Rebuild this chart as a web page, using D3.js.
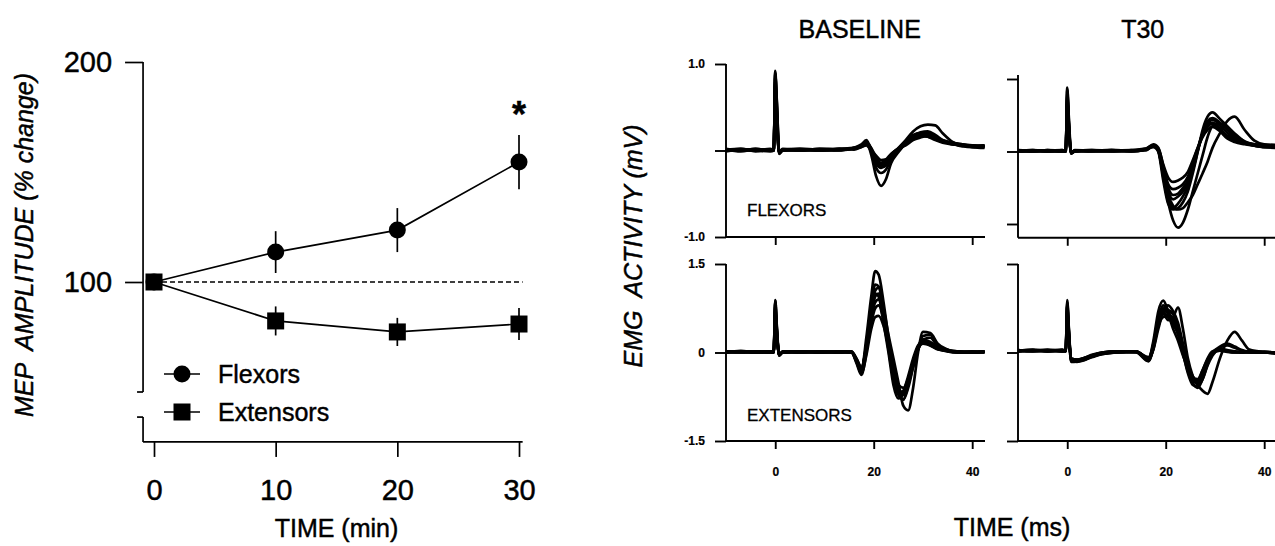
<!DOCTYPE html>
<html>
<head>
<meta charset="utf-8">
<script src="https://cdn.jsdelivr.net/npm/d3@7"></script>
<style>
  html, body { margin: 0; padding: 0; background: #fff; }
  svg { display: block; font-family: "Liberation Sans", Arial, Helvetica, sans-serif; }
  text { white-space: pre; fill: #000; stroke: #000; stroke-width: 0.45px; }
  text.small { stroke-width: 0.2px; }
</style>
</head>
<body>
<svg id="fig" width="1275" height="546"></svg>
<script>
// ---------- MEP amplitude time course (left) ----------
const minutes = [0, 10, 20, 30];
const minuteTicks = [0, 10, 20, 30];
const ampTicks = [100, 200];
const flexorsMean = [100, 113.6, 123.6, 154.5];
const flexorsSem = [0, 9.5, 10, 12.3];
const extensorsMean = [100, 82.3, 77.3, 80.9];
const extensorsSem = [0, 6.6, 6.4, 7.3];
const seriesNames = ["Flexors", "Extensors"];
const significant = [false, false, false, true];

// ---------- EMG sweeps (right) ----------
const emgTimeTicks = [0, 20, 40];
const panelTitles = ["BASELINE", "T30"];
const rowLabels = ["FLEXORS", "EXTENSORS"];
const flexTicks = [-1, 0, 1];
const extTicks = [-1.5, 0, 1.5];

// Flexors, baseline
const flexBaseTime = [-10, -7, -4, -1, -0.3, 0, 0.3, 0.8, 1.5, 5, 9, 13, 16, 17.5, 18.5, 19.5, 20.5, 21.5, 22.5, 23.5, 25, 26.5, 28, 29.5, 31, 32.5, 34, 36, 38, 40, 42.5];
const flexBaseSweeps = [
  [0.00, 0.02, -0.01, 0.01, 0.00, 0.92, 0.55, -0.03, 0.00, 0.01, 0.00, 0.02, 0.03, 0.06, 0.10, -0.05, -0.30, -0.41, -0.33, -0.15, -0.02, 0.08, 0.15, 0.18, 0.16, 0.12, 0.09, 0.07, 0.06, 0.05, 0.06],
  [0.01, 0.00, 0.02, 0.00, 0.01, 0.85, 0.60, -0.02, 0.01, 0.00, 0.02, 0.01, 0.02, 0.05, 0.08, 0.02, -0.12, -0.18, -0.15, -0.08, 0.02, 0.12, 0.22, 0.28, 0.30, 0.29, 0.20, 0.10, 0.06, 0.05, 0.04],
  [-0.01, 0.01, 0.00, 0.02, 0.00, 0.78, 0.40, -0.04, 0.00, 0.02, 0.01, 0.00, 0.03, 0.07, 0.12, 0.00, -0.20, -0.26, -0.22, -0.10, 0.00, 0.10, 0.18, 0.20, 0.18, 0.13, 0.10, 0.08, 0.05, 0.06, 0.05],
  [0.02, 0.00, 0.01, 0.00, 0.02, 0.90, 0.50, -0.03, 0.01, 0.00, 0.01, 0.02, 0.02, 0.05, 0.09, 0.03, -0.08, -0.14, -0.12, -0.06, 0.02, 0.09, 0.16, 0.19, 0.20, 0.15, 0.11, 0.08, 0.05, 0.04, 0.06],
  [0.00, 0.01, 0.00, -0.01, 0.00, 0.70, 0.35, -0.02, 0.00, 0.01, 0.00, 0.01, 0.03, 0.06, 0.11, -0.02, -0.15, -0.20, -0.17, -0.09, 0.01, 0.07, 0.14, 0.17, 0.16, 0.14, 0.12, 0.09, 0.07, 0.05, 0.05],
  [0.01, -0.01, 0.01, 0.01, 0.01, 0.80, 0.45, -0.03, 0.00, 0.00, 0.02, 0.01, 0.02, 0.04, 0.07, 0.01, -0.10, -0.16, -0.14, -0.05, 0.03, 0.11, 0.17, 0.21, 0.22, 0.18, 0.12, 0.07, 0.06, 0.04, 0.03],
  [0.00, 0.00, 0.02, 0.00, 0.00, 0.88, 0.58, -0.02, 0.02, 0.01, 0.00, 0.02, 0.01, 0.04, 0.06, 0.00, -0.06, -0.11, -0.10, -0.04, 0.02, 0.06, 0.12, 0.15, 0.17, 0.15, 0.10, 0.08, 0.06, 0.05, 0.04],
  [0.01, 0.02, 0.00, 0.01, 0.01, 0.75, 0.42, -0.03, 0.01, 0.02, 0.01, 0.00, 0.03, 0.05, 0.09, -0.01, -0.12, -0.19, -0.16, -0.07, 0.00, 0.08, 0.15, 0.19, 0.20, 0.16, 0.11, 0.09, 0.07, 0.06, 0.05]
];

// Flexors, 30 min
const flexT30Time = [-10, -7, -4, -1, -0.3, 0, 0.3, 0.8, 1.5, 5, 9, 13, 16, 17.5, 18.5, 19.5, 20.5, 21.5, 22.5, 23.5, 24.5, 25.5, 26.5, 27.5, 28.5, 29.5, 31, 32.5, 34, 36, 38, 40, 42.5];
const flexT30Sweeps = [
  [0.00, 0.02, 0.00, 0.01, 0.00, 0.88, 0.45, -0.02, 0.01, 0.00, 0.02, 0.01, 0.03, 0.08, 0.02, -0.35, -0.70, -0.95, -1.05, -0.98, -0.80, -0.55, -0.30, -0.05, 0.20, 0.35, 0.38, 0.30, 0.20, 0.12, 0.08, 0.06, 0.07],
  [0.01, 0.00, 0.02, 0.00, 0.01, 0.70, 0.35, -0.01, 0.00, 0.02, 0.00, 0.02, 0.04, 0.09, 0.00, -0.40, -0.72, -0.80, -0.78, -0.70, -0.55, -0.30, 0.00, 0.30, 0.48, 0.54, 0.45, 0.35, 0.25, 0.14, 0.10, 0.08, 0.08],
  [0.00, 0.01, 0.01, 0.02, 0.00, 0.60, 0.30, -0.02, 0.01, 0.01, 0.01, 0.00, 0.03, 0.06, 0.00, -0.30, -0.60, -0.75, -0.80, -0.78, -0.70, -0.60, -0.45, -0.30, -0.14, 0.05, 0.25, 0.42, 0.48, 0.30, 0.15, 0.10, 0.09],
  [0.02, 0.00, 0.01, 0.00, 0.02, 0.82, 0.40, -0.03, 0.00, 0.01, 0.02, 0.01, 0.04, 0.10, 0.05, -0.20, -0.45, -0.52, -0.50, -0.45, -0.35, -0.15, 0.05, 0.25, 0.36, 0.40, 0.32, 0.20, 0.15, 0.12, 0.10, 0.09, 0.08],
  [0.00, 0.01, 0.00, 0.01, 0.01, 0.75, 0.38, -0.02, 0.01, 0.00, 0.01, 0.02, 0.02, 0.08, 0.03, -0.25, -0.55, -0.66, -0.62, -0.55, -0.42, -0.22, 0.02, 0.22, 0.34, 0.38, 0.30, 0.22, 0.16, 0.11, 0.08, 0.07, 0.06],
  [0.01, 0.00, 0.02, 0.01, 0.00, 0.85, 0.50, -0.02, 0.02, 0.01, 0.00, 0.01, 0.03, 0.07, 0.04, -0.18, -0.36, -0.42, -0.40, -0.36, -0.28, -0.12, 0.05, 0.20, 0.30, 0.34, 0.28, 0.18, 0.13, 0.10, 0.08, 0.06, 0.05],
  [0.00, 0.02, 0.01, 0.00, 0.01, 0.78, 0.42, -0.03, 0.00, 0.02, 0.01, 0.01, 0.02, 0.09, 0.01, -0.32, -0.64, -0.78, -0.72, -0.62, -0.48, -0.26, 0.00, 0.26, 0.42, 0.46, 0.40, 0.32, 0.22, 0.14, 0.09, 0.07, 0.07],
  [0.02, 0.01, 0.00, 0.02, 0.00, 0.68, 0.33, -0.02, 0.01, 0.01, 0.02, 0.00, 0.03, 0.07, 0.02, -0.22, -0.50, -0.60, -0.58, -0.50, -0.40, -0.20, 0.03, 0.24, 0.38, 0.44, 0.36, 0.26, 0.18, 0.12, 0.09, 0.08, 0.06]
];

// Extensors, baseline
const extBaseTime = [-10, -7, -4, -1, -0.3, 0, 0.3, 0.8, 1.5, 5, 9, 13, 15.5, 16.5, 17.5, 18.5, 19.5, 20.3, 21, 22, 23, 24, 25, 26, 27, 28, 29, 30, 31.5, 33, 35, 37, 40, 42.5];
const extBaseSweeps = [
  [0.00, 0.03, 0.00, 0.02, 0.00, 0.89, 0.45, -0.05, 0.00, 0.02, 0.00, 0.01, 0.00, -0.15, -0.30, 0.25, 0.95, 1.38, 1.32, 0.85, 0.25, -0.25, -0.62, -0.80, -0.60, -0.25, 0.05, 0.22, 0.18, 0.08, 0.02, 0.00, 0.01, 0.02],
  [0.01, 0.00, 0.02, 0.00, 0.01, 0.80, 0.40, -0.04, 0.01, 0.00, 0.02, 0.00, 0.01, -0.10, -0.25, 0.10, 0.70, 1.05, 1.10, 0.75, 0.30, -0.10, -0.50, -0.90, -0.98, -0.60, 0.00, 0.35, 0.33, 0.15, 0.05, 0.00, 0.00, 0.01],
  [0.02, 0.01, 0.00, 0.01, 0.02, 0.60, 0.30, -0.03, 0.00, 0.01, 0.01, 0.02, 0.00, -0.18, -0.38, 0.00, 0.60, 0.95, 1.00, 0.60, 0.05, -0.45, -0.70, -0.65, -0.40, -0.10, 0.12, 0.18, 0.12, 0.06, 0.02, 0.01, 0.00, 0.02],
  [0.00, 0.02, 0.01, 0.00, 0.00, 0.85, 0.42, -0.05, 0.01, 0.02, 0.00, 0.01, 0.02, -0.12, -0.28, 0.15, 0.75, 1.00, 0.95, 0.50, 0.00, -0.55, -0.78, -0.70, -0.45, -0.15, 0.10, 0.20, 0.15, 0.08, 0.03, 0.00, 0.01, 0.00],
  [0.01, 0.00, 0.01, 0.02, 0.01, 0.75, 0.38, -0.04, 0.00, 0.00, 0.01, 0.00, 0.01, -0.14, -0.32, 0.05, 0.55, 0.85, 0.90, 0.60, 0.15, -0.35, -0.65, -0.72, -0.50, -0.20, 0.05, 0.22, 0.25, 0.10, 0.04, 0.02, 0.00, 0.01],
  [0.02, 0.01, 0.00, 0.00, 0.00, 0.70, 0.35, -0.03, 0.02, 0.01, 0.00, 0.02, 0.00, -0.16, -0.35, -0.05, 0.40, 0.60, 0.62, 0.45, 0.10, -0.30, -0.55, -0.60, -0.45, -0.18, 0.08, 0.15, 0.12, 0.05, 0.03, 0.01, 0.02, 0.00],
  [0.00, 0.01, 0.02, 0.01, 0.00, 0.88, 0.48, -0.05, 0.00, 0.02, 0.01, 0.00, 0.01, -0.13, -0.30, 0.12, 0.80, 1.15, 1.12, 0.70, 0.18, -0.40, -0.72, -0.80, -0.55, -0.25, 0.05, 0.28, 0.30, 0.12, 0.04, 0.01, 0.00, 0.01],
  [0.01, 0.02, 0.00, 0.01, 0.01, 0.65, 0.32, -0.04, 0.01, 0.00, 0.02, 0.01, 0.00, -0.11, -0.26, 0.08, 0.50, 0.75, 0.80, 0.55, 0.12, -0.32, -0.60, -0.68, -0.48, -0.18, 0.06, 0.16, 0.14, 0.07, 0.03, 0.02, 0.01, 0.02]
];

// Extensors, 30 min
const extT30Time = [-10, -7, -4, -1, -0.3, 0, 0.3, 0.8, 2, 3.5, 5, 7, 10, 14, 16.5, 17.5, 18.5, 19.5, 20.5, 21.5, 22.5, 23.5, 24.5, 25.5, 26.5, 27.5, 28.5, 29.5, 31, 32.5, 34, 35.5, 37, 40, 42.5];
const extT30Sweeps = [
  [0.03, 0.05, 0.02, 0.04, 0.03, 0.89, 0.40, -0.15, -0.14, -0.12, -0.08, -0.03, 0.00, 0.01, -0.12, 0.20, 0.70, 0.88, 0.70, 0.50, 0.35, 0.05, -0.25, -0.45, -0.50, -0.35, -0.15, 0.00, 0.05, 0.03, 0.02, 0.00, 0.01, 0.00, -0.02],
  [0.02, 0.03, 0.04, 0.02, 0.03, 0.80, 0.35, -0.12, -0.15, -0.13, -0.06, -0.02, 0.01, 0.02, -0.10, 0.05, 0.40, 0.65, 0.55, 0.60, 0.76, 0.40, -0.10, -0.40, -0.55, -0.45, -0.20, 0.00, 0.05, 0.02, 0.00, 0.01, 0.02, 0.00, -0.01],
  [0.04, 0.02, 0.03, 0.05, 0.02, 0.70, 0.30, -0.10, -0.12, -0.10, -0.05, 0.00, 0.02, 0.00, -0.15, 0.10, 0.55, 0.80, 0.65, 0.40, 0.20, -0.05, -0.25, -0.40, -0.55, -0.65, -0.70, -0.50, -0.10, 0.20, 0.35, 0.20, 0.05, 0.01, 0.00],
  [0.03, 0.04, 0.02, 0.03, 0.04, 0.85, 0.45, -0.14, -0.16, -0.11, -0.07, -0.02, 0.00, 0.01, -0.08, 0.15, 0.60, 0.75, 0.72, 0.65, 0.45, 0.10, -0.30, -0.50, -0.48, -0.30, -0.10, 0.02, 0.04, 0.02, 0.01, 0.00, 0.00, 0.01, -0.01],
  [0.02, 0.03, 0.05, 0.02, 0.02, 0.75, 0.38, -0.11, -0.13, -0.09, -0.05, -0.01, 0.02, 0.02, -0.14, 0.08, 0.50, 0.70, 0.68, 0.55, 0.38, 0.00, -0.35, -0.55, -0.58, -0.40, -0.18, -0.02, 0.03, 0.01, 0.00, 0.01, 0.00, 0.01, 0.00],
  [0.04, 0.02, 0.03, 0.04, 0.03, 0.65, 0.32, -0.13, -0.14, -0.10, -0.06, -0.01, 0.01, 0.02, -0.11, 0.12, 0.55, 0.72, 0.80, 0.70, 0.50, 0.15, -0.20, -0.42, -0.45, -0.30, -0.12, 0.00, 0.10, 0.15, 0.10, 0.04, 0.01, 0.00, 0.00],
  [0.03, 0.03, 0.02, 0.03, 0.02, 0.82, 0.42, -0.16, -0.15, -0.12, -0.07, -0.03, 0.00, 0.01, -0.09, 0.10, 0.45, 0.60, 0.62, 0.58, 0.42, 0.05, -0.28, -0.48, -0.52, -0.38, -0.15, 0.00, 0.06, 0.04, 0.02, 0.00, 0.01, 0.00, -0.01],
  [0.02, 0.04, 0.03, 0.02, 0.03, 0.60, 0.28, -0.10, -0.12, -0.09, -0.04, 0.00, 0.02, 0.01, -0.13, 0.06, 0.48, 0.68, 0.60, 0.48, 0.30, -0.02, -0.32, -0.52, -0.60, -0.45, -0.22, -0.05, 0.08, 0.12, 0.08, 0.03, 0.01, 0.00, 0.00]
];

const svg = d3.select("#fig");
const ink = "#000";

// ================= Left: MEP amplitude =================
const xMin = d3.scaleLinear().domain([0, 30]).range([154, 519]);
const yAmp = d3.scaleLinear().domain([100, 200]).range([282, 62]);
const axisLeftX = xMin(-0.9);
const left = svg.append("g");

// broken y axis: upper segment and short lower stub
const upperSeg = [50, 200], lowerSeg = [27.3, 38.6];
left.append("line").attr("x1", axisLeftX).attr("x2", axisLeftX)
  .attr("y1", yAmp(upperSeg[1])).attr("y2", yAmp(upperSeg[0]))
  .attr("stroke", ink).attr("stroke-width", 1.7);
left.append("line").attr("x1", axisLeftX - 6).attr("x2", axisLeftX)
  .attr("y1", yAmp(upperSeg[0])).attr("y2", yAmp(upperSeg[0]))
  .attr("stroke", ink).attr("stroke-width", 1.7);
left.append("line").attr("x1", axisLeftX).attr("x2", axisLeftX)
  .attr("y1", yAmp(lowerSeg[1])).attr("y2", yAmp(lowerSeg[0]))
  .attr("stroke", ink).attr("stroke-width", 1.7);
left.append("line").attr("x1", axisLeftX - 6).attr("x2", axisLeftX)
  .attr("y1", yAmp(lowerSeg[1])).attr("y2", yAmp(lowerSeg[1]))
  .attr("stroke", ink).attr("stroke-width", 1.7);

// y ticks
const yAxisG = left.append("g").attr("transform", `translate(${axisLeftX},0)`)
  .call(d3.axisLeft(yAmp).tickValues(ampTicks).tickSize(18).tickPadding(13).tickFormat(d3.format("d")));
yAxisG.select(".domain").remove();
yAxisG.selectAll(".tick line").attr("stroke", ink).attr("stroke-width", 1.7);
yAxisG.selectAll(".tick text").attr("fill", ink).style("font-size", "29px").style("font-family", "Liberation Sans, Arial, sans-serif");

// x axis
const xAxisY = yAmp(lowerSeg[0]);
left.append("line").attr("x1", axisLeftX).attr("x2", xMin(30.3))
  .attr("y1", xAxisY).attr("y2", xAxisY).attr("stroke", ink).attr("stroke-width", 1.7);
const xAxisG = left.append("g").attr("transform", `translate(0,${xAxisY})`)
  .call(d3.axisBottom(xMin).tickValues(minuteTicks).tickSize(15).tickPadding(22).tickFormat(d3.format("d")));
xAxisG.select(".domain").remove();
xAxisG.selectAll(".tick line").attr("stroke", ink).attr("stroke-width", 1.7);
xAxisG.selectAll(".tick text").attr("fill", ink).style("font-size", "29px").style("font-family", "Liberation Sans, Arial, sans-serif");

// 100% reference line
left.append("line").attr("x1", xMin(0)).attr("x2", xMin(30.3))
  .attr("y1", yAmp(100)).attr("y2", yAmp(100))
  .attr("stroke", ink).attr("stroke-width", 1.3).attr("stroke-dasharray", "5,3");

const ampLine = d3.line().x((d, i) => xMin(minutes[i])).y(d => yAmp(d));
const series = [
  { name: seriesNames[0], mean: flexorsMean, sem: flexorsSem, shape: "circle" },
  { name: seriesNames[1], mean: extensorsMean, sem: extensorsSem, shape: "square" }
];
function drawMarker(g, cx, cy, shape) {
  if (shape === "circle") {
    g.append("circle").attr("cx", cx).attr("cy", cy).attr("r", 8.5).attr("fill", ink);
  } else {
    g.append("rect").attr("x", cx - 8.5).attr("y", cy - 8.5).attr("width", 17).attr("height", 17).attr("fill", ink);
  }
}
series.forEach(s => {
  const g = left.append("g");
  g.append("path").attr("d", ampLine(s.mean)).attr("fill", "none").attr("stroke", ink).attr("stroke-width", 1.7);
  s.mean.forEach((m, i) => {
    if (s.sem[i] > 0) {
      g.append("line").attr("x1", xMin(minutes[i])).attr("x2", xMin(minutes[i]))
        .attr("y1", yAmp(m + s.sem[i])).attr("y2", yAmp(m - s.sem[i]))
        .attr("stroke", ink).attr("stroke-width", 1.7);
    }
    drawMarker(g, xMin(minutes[i]), yAmp(m), s.shape);
  });
});

// significance mark
significant.forEach((sig, i) => {
  if (!sig) return;
  left.append("text").attr("x", xMin(minutes[i])).attr("y", yAmp(flexorsMean[i] + flexorsSem[i]) - 8)
    .attr("text-anchor", "middle").style("font-size", "36px").style("font-weight", "bold").text("*");
});

// legend
const legendRows = [{ y: 374, shape: "circle", name: seriesNames[0] }, { y: 412, shape: "square", name: seriesNames[1] }];
legendRows.forEach(r => {
  left.append("line").attr("x1", 164).attr("x2", 200).attr("y1", r.y).attr("y2", r.y).attr("stroke", ink).attr("stroke-width", 1.7);
  drawMarker(left, 182, r.y, r.shape);
  left.append("text").attr("x", 218).attr("y", r.y + 9).style("font-size", "25px").text(r.name);
});

// axis titles
left.append("text").attr("transform", "translate(33,245) rotate(-90)")
  .attr("text-anchor", "middle").style("font-size", "25px").style("font-style", "italic")
  .text("MEP  AMPLITUDE (% change)");
left.append("text").attr("x", (xMin(0) + xMin(30)) / 2).attr("y", 537)
  .attr("text-anchor", "middle").style("font-size", "25px").text("TIME (min)");

// ================= Right: EMG sweeps =================
const emgDomain = [-10, 42.6];
const panels = [
  { time: flexBaseTime, sweeps: flexBaseSweeps, x0: 726, yDom: [-1, 1], yRange: [237, 64], axisTop: 1, axisBottom: -1, ticks: flexTicks, labels: ["-1.0", "", "1.0"], xLabels: false, xEnd: 985, row: 0, col: 0 },
  { time: flexT30Time, sweeps: flexT30Sweeps, x0: 1018, yDom: [-1, 1], yRange: [224, 79], axisTop: 1.055, axisBottom: -1.19, ticks: flexTicks, labels: ["", "", ""], xLabels: false, xEnd: 1277, row: 0, col: 1 },
  { time: extBaseTime, sweeps: extBaseSweeps, x0: 726, yDom: [-1.5, 1.5], yRange: [441, 264], axisTop: 1.5, axisBottom: -1.5, ticks: extTicks, labels: ["-1.5", "0", "1.5"], xLabels: true, xEnd: 985, row: 1, col: 0 },
  { time: extT30Time, sweeps: extT30Sweeps, x0: 1018, yDom: [-1.5, 1.5], yRange: [441, 264], axisTop: 1.5, axisBottom: -1.5, ticks: extTicks, labels: ["", "", ""], xLabels: true, xEnd: 1277, row: 1, col: 1 }
];

panels.forEach(p => {
  const x = d3.scaleLinear().domain(emgDomain).range([p.x0, p.x0 + 259]);
  const y = d3.scaleLinear().domain(p.yDom).range(p.yRange);
  const g = svg.append("g");
  const baseY = y(p.axisBottom);

  // sweeps
  const line = d3.line().x((d, i) => x(p.time[i])).y(d => y(d)).curve(d3.curveMonotoneX);
  p.sweeps.forEach(s => {
    g.append("path").attr("d", line(s)).attr("fill", "none").attr("stroke", ink)
      .attr("stroke-width", 2.7).attr("stroke-linejoin", "round");
  });

  // y axis
  g.append("line").attr("x1", p.x0).attr("x2", p.x0).attr("y1", y(p.axisTop)).attr("y2", baseY)
    .attr("stroke", ink).attr("stroke-width", 1.9);
  const ya = g.append("g").attr("transform", `translate(${p.x0},0)`)
    .call(d3.axisLeft(y).tickValues(p.ticks).tickSize(11).tickPadding(10).tickFormat((d, i) => p.labels[i]));
  ya.select(".domain").remove();
  ya.selectAll(".tick line").attr("stroke", ink).attr("stroke-width", 1.9);
  ya.selectAll(".tick text").attr("class", "small").attr("fill", ink).style("font-size", "12px").style("font-weight", "bold")
    .style("font-family", "Liberation Sans, Arial, sans-serif");

  // x axis
  g.append("line").attr("x1", p.x0).attr("x2", p.xEnd).attr("y1", baseY).attr("y2", baseY)
    .attr("stroke", ink).attr("stroke-width", 1.9);
  const xa = g.append("g").attr("transform", `translate(0,${baseY})`)
    .call(d3.axisBottom(x).tickValues(emgTimeTicks).tickSize(8).tickPadding(18)
      .tickFormat(p.xLabels ? d3.format("d") : () => ""));
  xa.select(".domain").remove();
  xa.selectAll(".tick line").attr("stroke", ink).attr("stroke-width", 1.9);
  xa.selectAll(".tick text").attr("class", "small").attr("fill", ink).style("font-size", "12px").style("font-weight", "bold")
    .style("font-family", "Liberation Sans, Arial, sans-serif");

  // row label in the left column
  if (p.col === 0) {
    g.append("text").attr("x", 747).attr("y", p.row === 0 ? 216 : 421)
      .style("font-size", "17px").style("stroke-width", "0.3px").text(rowLabels[p.row]);
  }
  // column title
  if (p.row === 0) {
    g.append("text").attr("x", x(20) - (p.col === 0 ? 14 : 23)).attr("y", 38)
      .attr("text-anchor", "middle").style("font-size", "25px").text(panelTitles[p.col]);
  }
});

svg.append("text").attr("transform", "translate(642,246) rotate(-90)")
  .attr("text-anchor", "middle").style("font-size", "25px").style("font-style", "italic")
  .text("EMG  ACTIVITY (mV)");
svg.append("text").attr("x", 1012).attr("y", 536)
  .attr("text-anchor", "middle").style("font-size", "25px").text("TIME (ms)");
</script>
</body>
</html>
